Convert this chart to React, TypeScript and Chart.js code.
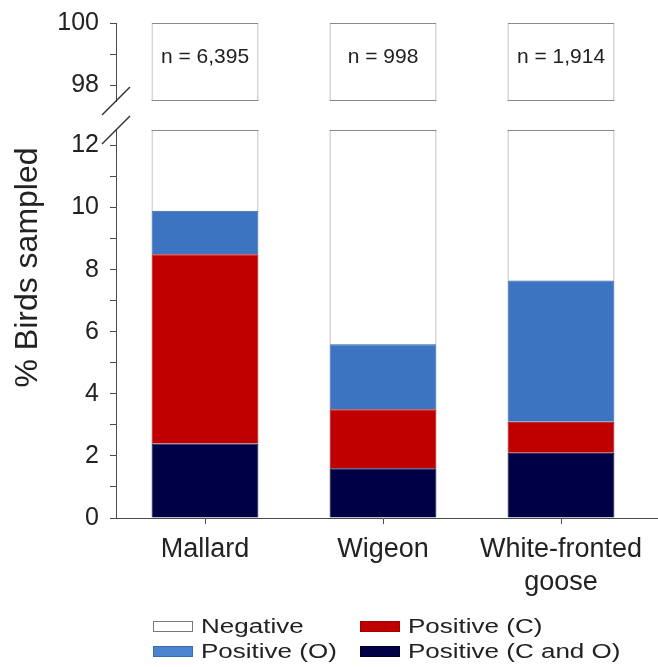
import React, { useEffect, useRef } from 'react';
import { Chart, registerables } from 'chart.js';

Chart.register(...registerables);

// ---- data ----
const categories: (string | string[])[] = ['Mallard', 'Wigeon', ['White-fronted', 'goose']];
const sampleSizes = ['n = 6,395', 'n = 998', 'n = 1,914'];
const positiveCandO = [2.4, 1.6, 2.1];
const positiveC = [6.1, 1.9, 1.0];
const positiveO = [1.4, 2.1, 4.55];
const negative = [90.1, 94.4, 92.35];
const totals = categories.map((_, i) => positiveCandO[i] + positiveC[i] + positiveO[i] + negative[i]);

const upperRange = [97.5, 100];
const lowerRange = [0, 12.5];
const tickStep = 1;
const labelEvery = 2;
const yTitle = '% Birds sampled';

// ---- styles ----
const FONT = '"Liberation Sans", Arial, Helvetica, sans-serif';
const TEXT = '#222222';
const AXIS = '#4a4a4a';
const EDGE = '#8a8a8a';
const NAVY = '#000046';
const RED = '#c00000';
const BLUE = '#3d74c1';
const WHITE = '#ffffff';

const legendItems = [
  { label: 'Negative', fill: WHITE, border: '#7a7a7a' },
  { label: 'Positive (C)', fill: RED, border: '#a00000' },
  { label: 'Positive (O)', fill: '#4a84cf', border: '#3a6aa8' },
  { label: 'Positive (C and O)', fill: NAVY, border: '#000030' },
];

const yTicks = {
  stepSize: tickStep,
  includeBounds: false,
  autoSkip: false,
  padding: 11,
  color: TEXT,
  font: { family: FONT, size: 25 },
  callback: (v: any) => (Number(v) % labelEvery === 0 ? String(v) : ''),
};
const yGrid = { drawOnChartArea: false, tickLength: 6, color: AXIS, lineWidth: 1 };
const yBorder = { color: AXIS, width: 1 };
const yFit = (s: any) => {
  s.width = 60;
  s.paddingTop = 0;
  s.paddingBottom = 0;
};

const brokenAxisPlugin = {
  id: 'brokenAxis',
  afterDatasetsDraw(chart: any) {
    const ctx = chart.ctx;
    const yT = chart.scales.yTop;
    const yB = chart.scales.yBottom;
    const topMeta = chart.getDatasetMeta(4);
    ctx.save();
    ctx.strokeStyle = EDGE;
    ctx.lineWidth = 1;
    topMeta.data.forEach((el: any, i: number) => {
      const { x, width } = el.getProps(['x', 'width'], true);
      const l = x - width / 2;
      const r = x + width / 2;
      ctx.beginPath();
      ctx.moveTo(l, Math.round(yT.bottom) - 0.5);
      ctx.lineTo(r, Math.round(yT.bottom) - 0.5);
      ctx.moveTo(l, Math.round(yB.top) + 0.5);
      ctx.lineTo(r, Math.round(yB.top) + 0.5);
      ctx.stroke();
      ctx.fillStyle = TEXT;
      ctx.font = `21px ${FONT}`;
      ctx.textAlign = 'center';
      ctx.textBaseline = 'middle';
      ctx.fillText(sampleSizes[i], x, (yT.top + yT.bottom) / 2 - 5);
    });
    ctx.restore();
  },
  afterDraw(chart: any) {
    const ctx = chart.ctx;
    const area = chart.chartArea;
    const yT = chart.scales.yTop;
    const yB = chart.scales.yBottom;
    const xS = chart.scales.x;
    ctx.save();
    // break slashes
    ctx.strokeStyle = '#333333';
    ctx.lineWidth = 1.4;
    const ax = area.left;
    [yT.bottom, yB.top].forEach((yy: number) => {
      ctx.beginPath();
      ctx.moveTo(ax - 14, yy + 14);
      ctx.lineTo(ax + 14, yy - 14);
      ctx.stroke();
    });
    // x axis line continues to the edge
    ctx.strokeStyle = AXIS;
    ctx.lineWidth = 1;
    const yy = Math.round(xS.top) + 0.5;
    ctx.beginPath();
    ctx.moveTo(area.right, yy);
    ctx.lineTo(chart.width, yy);
    ctx.stroke();
    // y title across both parts
    ctx.fillStyle = TEXT;
    ctx.font = `32px ${FONT}`;
    ctx.textAlign = 'center';
    ctx.textBaseline = 'middle';
    ctx.translate(28, (yT.top + yB.bottom) / 2 - 3);
    ctx.rotate(-Math.PI / 2);
    ctx.fillText(yTitle, 0, 0);
    ctx.restore();
  },
};

export default function App() {
  const canvasRef = useRef<HTMLCanvasElement | null>(null);

  useEffect(() => {
    if (!canvasRef.current) return;
    const chart = new Chart(canvasRef.current, {
      type: 'bar',
      data: {
        labels: categories as any,
        datasets: [
          { label: 'Positive (C and O)', data: positiveCandO, backgroundColor: NAVY, borderColor: '#000030', borderWidth: 1, yAxisID: 'yBottom', stack: 's' },
          { label: 'Positive (C)', data: positiveC, backgroundColor: RED, borderColor: '#a00000', borderWidth: 1, yAxisID: 'yBottom', stack: 's' },
          { label: 'Positive (O)', data: positiveO, backgroundColor: BLUE, borderColor: '#2f5f9f', borderWidth: 1, yAxisID: 'yBottom', stack: 's' },
          { label: 'Negative', data: negative, backgroundColor: WHITE, borderColor: EDGE, borderWidth: 1, yAxisID: 'yBottom', stack: 's', clip: 0 },
          { label: 'Negative', data: totals, backgroundColor: WHITE, borderColor: EDGE, borderWidth: 1, yAxisID: 'yTop', stack: 's', clip: 0, borderSkipped: false },
        ] as any,
      },
      options: {
        animation: false,
        responsive: false,
        devicePixelRatio: 1,
        layout: { padding: { left: 56, right: 8, top: 23, bottom: 69 } },
        plugins: { legend: { display: false }, tooltip: { enabled: false } },
        datasets: { bar: { barPercentage: 0.6, categoryPercentage: 1 } },
        scales: {
          x: {
            type: 'category',
            stacked: true,
            offset: true,
            grid: { drawOnChartArea: false, offset: false, tickLength: 6, color: AXIS },
            border: { color: AXIS, width: 1 },
            ticks: { font: { family: FONT, size: 27, lineHeight: 1.22 }, color: TEXT, padding: 9, maxRotation: 0, autoSkip: false },
            afterFit: (s: any) => {
              s.height = 80;
              s.paddingLeft = 0;
              s.paddingRight = 0;
            },
          },
          yTop: {
            type: 'linear', position: 'left', stack: 'left', stackWeight: 78, weight: 3, stacked: true,
            min: upperRange[0], max: upperRange[1],
            ticks: yTicks, grid: yGrid, border: yBorder, afterFit: yFit,
          },
          yGap: {
            type: 'linear', position: 'left', stack: 'left', stackWeight: 29, weight: 2,
            min: 0, max: 1,
            ticks: { display: false }, grid: { display: false }, border: { display: false }, afterFit: yFit,
          },
          yBottom: {
            type: 'linear', position: 'left', stack: 'left', stackWeight: 388, weight: 1, stacked: true,
            min: lowerRange[0], max: lowerRange[1],
            ticks: yTicks, grid: yGrid, border: yBorder, afterFit: yFit,
          },
        } as any,
      },
      plugins: [brokenAxisPlugin],
    });
    return () => chart.destroy();
  }, []);

  return (
    <div style={{ position: 'absolute', left: 0, top: 0, width: 658, height: 667, background: '#ffffff', overflow: 'hidden' }}>
      <canvas ref={canvasRef} width={658} height={667} style={{ display: 'block', width: 658, height: 667 }} />
      <div
        style={{
          position: 'absolute', left: 153, top: 614,
          display: 'grid', gridTemplateColumns: '207px 260px',
          fontFamily: FONT, color: TEXT,
        }}
      >
        {legendItems.map((it) => (
          <div key={it.label} style={{ display: 'flex', alignItems: 'center', height: 25 }}>
            <span style={{ display: 'inline-block', width: 38, height: 9, background: it.fill, border: `1px solid ${it.border}`, marginRight: 8, flex: 'none' }} />
            <span style={{ fontSize: 20, lineHeight: '25px', whiteSpace: 'nowrap', display: 'inline-block', transform: 'scaleX(1.3)', transformOrigin: 'left center' }}>{it.label}</span>
          </div>
        ))}
      </div>
    </div>
  );
}
